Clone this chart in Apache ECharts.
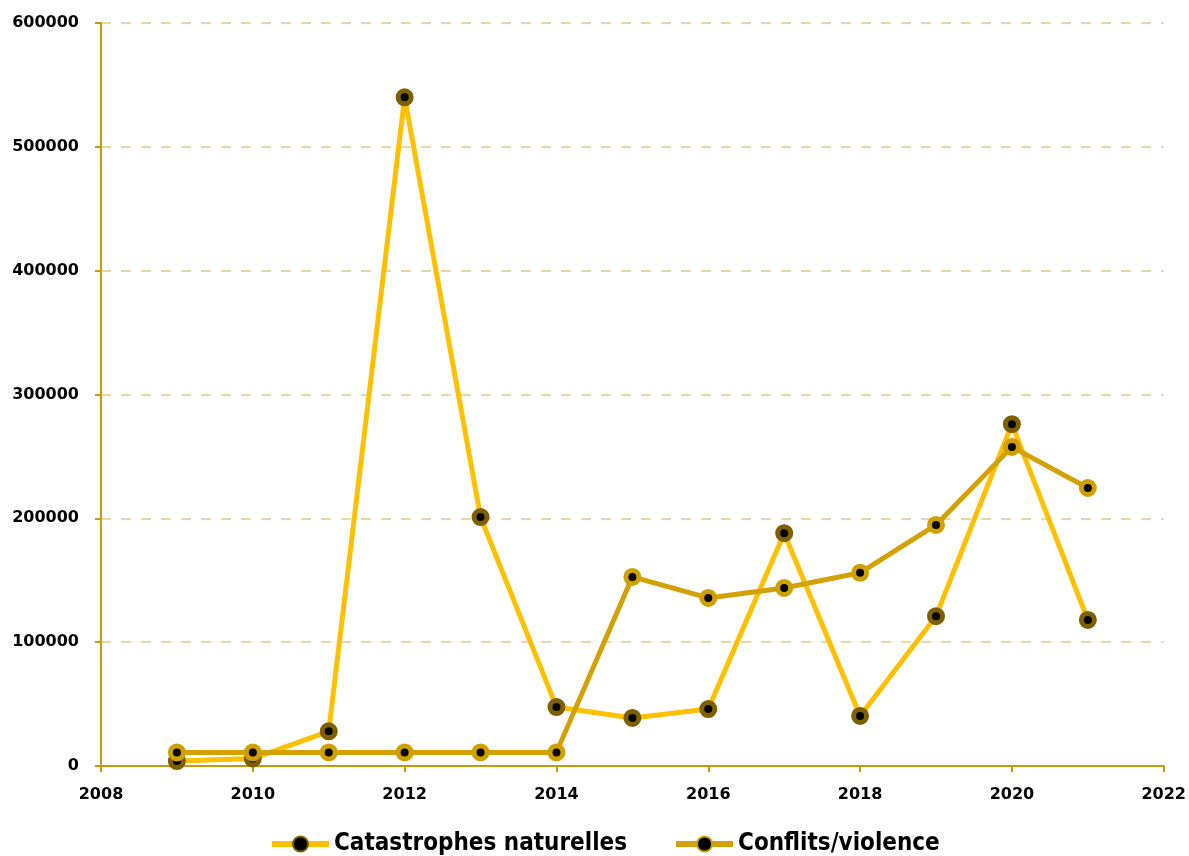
<!DOCTYPE html>
<html>
<head>
<meta charset="utf-8">
<script src="https://cdn.jsdelivr.net/npm/echarts@6/dist/echarts.min.js"></script>
<style>html,body{margin:0;padding:0;background:#fff;}#c{width:1189px;height:856px;}</style>
</head>
<body>
<div id="c"></div>
<script>
const years = [2009, 2010, 2011, 2012, 2013, 2014, 2015, 2016, 2017, 2018, 2019, 2020, 2021];
const catastrophes = [4000, 6000, 28000, 540000, 201000, 47600, 38800, 46000, 188000, 40400, 121000, 276000, 118000];
const conflits = [11000, 11000, 11000, 11000, 11000, 11000, 152700, 135700, 143800, 156000, 194700, 257700, 224500];
const seriesNames = ['Catastrophes naturelles', 'Conflits/violence'];

const chart = echarts.init(document.getElementById('c'));
const axisColor = '#C99A06';
const labelFont = {color: '#000', fontFamily: 'DejaVu Sans', fontWeight: 'bold', fontSize: 16};
chart.setOption({
  animation: false,
  grid: {left: 101, right: 25, top: 23, bottom: 90},
  legend: {
    bottom: -5,
    left: 264,
    itemWidth: 57,
    itemHeight: 19,
    itemGap: 46,
    lineStyle: {width: 6},
    textStyle: {color: '#000', fontFamily: 'Liberation Sans Narrow, DejaVu Sans Condensed, sans-serif', fontWeight: 'bold', fontSize: 24},
    data: seriesNames
  },
  xAxis: {
    type: 'value', min: 2008, max: 2022, interval: 2,
    axisLine: {lineStyle: {color: axisColor, width: 2}},
    axisTick: {show: true, length: 6, lineStyle: {color: axisColor, width: 2}},
    axisLabel: Object.assign({margin: 21, formatter: v => String(v)}, labelFont),
    splitLine: {show: false}
  },
  yAxis: {
    type: 'value', min: 0, max: 600000, interval: 100000,
    axisLine: {show: true, lineStyle: {color: axisColor, width: 2}},
    axisTick: {show: true, length: 6, lineStyle: {color: axisColor, width: 2}},
    axisLabel: Object.assign({margin: 22, formatter: v => String(v)}, labelFont),
    splitLine: {show: true, lineStyle: {color: '#E9D9A6', type: [10, 10], width: 2}}
  },
  series: [
    {
      name: seriesNames[0], type: 'line',
      data: years.map((y, i) => [y, catastrophes[i]]),
      symbol: 'circle', symbolSize: 13,
      lineStyle: {color: '#FFC000', width: 5},
      itemStyle: {color: '#000', borderColor: '#7F6000', borderWidth: 5}
    },
    {
      name: seriesNames[1], type: 'line',
      data: years.map((y, i) => [y, conflits[i]]),
      symbol: 'circle', symbolSize: 13,
      lineStyle: {color: '#D4A104', width: 5},
      itemStyle: {color: '#000', borderColor: '#CFA000', borderWidth: 5}
    }
  ]
});
</script>
</body>
</html>
